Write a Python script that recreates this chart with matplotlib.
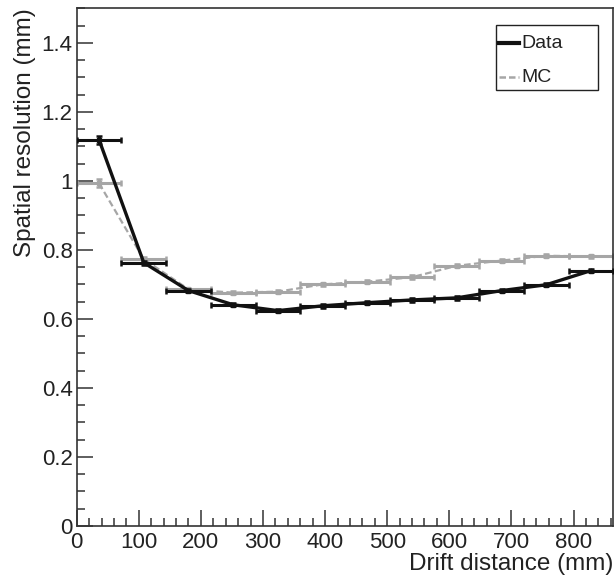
import matplotlib
matplotlib.use("Agg")
import matplotlib.pyplot as plt
from matplotlib.lines import Line2D
from matplotlib.patches import Rectangle
from matplotlib.ticker import MultipleLocator, FuncFormatter

# ---- data ----
bin_centers = [36, 108, 180, 252, 324, 396, 468, 540, 612, 684, 756, 828]
bin_halfwidth = [36] * 12
data_res = [1.119, 0.763, 0.682, 0.641, 0.624, 0.638, 0.647, 0.655, 0.661, 0.682, 0.699, 0.740]
data_err = [0.012, 0.006, 0.005, 0.005, 0.005, 0.005, 0.005, 0.005, 0.005, 0.005, 0.005, 0.005]
mc_res = [0.993, 0.773, 0.686, 0.676, 0.679, 0.700, 0.708, 0.721, 0.754, 0.769, 0.783, 0.781]
mc_err = [0.012, 0.006, 0.005, 0.005, 0.005, 0.005, 0.005, 0.005, 0.005, 0.005, 0.005, 0.005]

series_names = ['Data', 'MC']
xlabel = "Drift distance (mm)"
ylabel = "Spatial resolution (mm)"

plt.rcParams['font.family'] = ['Liberation Sans', 'DejaVu Sans']

W, H = 616, 580
fig = plt.figure(figsize=(W / 100, H / 100), dpi=100)
ax = fig.add_axes([76.7 / W, 1 - 526 / H, (613.3 - 76.7) / W, (526 - 8.3) / H])

gray = '#a6a6a6'
black = '#111111'

# MC
ax.errorbar(bin_centers, mc_res, xerr=bin_halfwidth, yerr=mc_err, fmt='none',
            ecolor=gray, elinewidth=2.2, capsize=2.5, capthick=1.8, zorder=2)
ax.plot(bin_centers, mc_res, color=gray, lw=1.6, ls=(0, (3, 1.5)), zorder=2)
ax.plot(bin_centers, mc_res, ls='none', marker='s', ms=3, color=gray, zorder=2)

# Data
ax.errorbar(bin_centers, data_res, xerr=bin_halfwidth, yerr=data_err, fmt='none',
            ecolor=black, elinewidth=2.2, capsize=2.5, capthick=1.8, zorder=3)
ax.plot(bin_centers, data_res, color=black, lw=2.4, zorder=3)
ax.plot(bin_centers, data_res, ls='none', marker='s', ms=3, color=black, zorder=3)

ax.set_xlim(0, 864)
ax.set_ylim(0, 1.5)

ax.xaxis.set_major_locator(MultipleLocator(100))
ax.xaxis.set_minor_locator(MultipleLocator(20))
ax.yaxis.set_major_locator(MultipleLocator(0.2))
ax.yaxis.set_minor_locator(MultipleLocator(0.05))


def yfmt(v, pos):
    s = f"{v:.1f}"
    if s.endswith(".0"):
        s = s[:-2]
    return s


ax.yaxis.set_major_formatter(FuncFormatter(yfmt))
ax.xaxis.set_major_formatter(FuncFormatter(lambda v, p: f"{int(round(v))}"))

ax.tick_params(which='both', direction='in', top=False, right=False,
               colors='#333333', labelcolor='#222222', labelsize=16, width=1.1)
ax.tick_params(which='major', length=11.5)
ax.tick_params(which='minor', length=5.8)
ax.tick_params(axis='x', pad=4)
ax.tick_params(axis='y', pad=3)

for sp in ax.spines.values():
    sp.set_linewidth(1.2)
    sp.set_color('#333333')

ax.set_xlabel(xlabel, fontsize=17.5, color='#222222', loc='right', labelpad=0)
ax.set_ylabel(ylabel, fontsize=17.5, color='#222222', loc='top', labelpad=4)

# ---- legend (drawn in figure pixel coordinates) ----
def fx(px):
    return px / W


def fy(py):
    return 1 - py / H


fig.add_artist(Rectangle((fx(496), fy(90)), fx(598) - fx(496), fy(25) - fy(90),
                         transform=fig.transFigure, fill=False,
                         edgecolor='#222222', linewidth=1.0, zorder=5))
legend_styles = [dict(color=black, lw=3.0, ls='-'),
                 dict(color=gray, lw=1.8, ls=(0, (2.6, 1.2)))]
legend_rows = [43, 77]
for name, style, row in zip(series_names, legend_styles, legend_rows):
    fig.add_artist(Line2D([fx(499), fx(519)], [fy(row), fy(row)],
                          transform=fig.transFigure, zorder=6, **style))
    fig.text(fx(521), fy(row), name, fontsize=14, color='#222222',
             ha='left', va='center', zorder=6)

fig.savefig('out.png', dpi=100)
